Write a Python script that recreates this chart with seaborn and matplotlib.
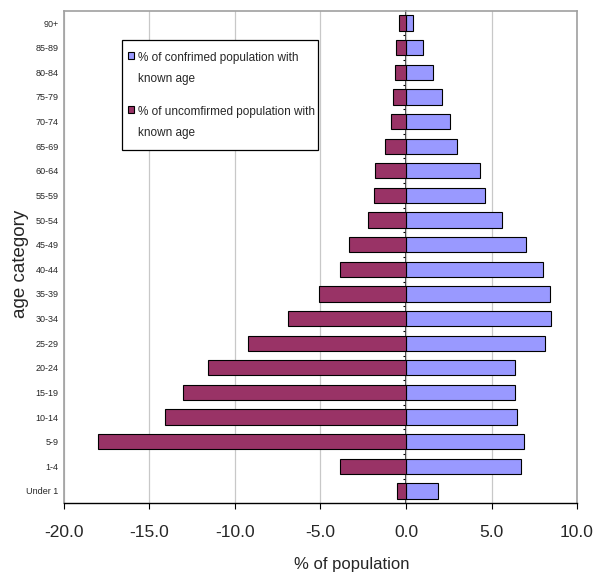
import numpy as np
import pandas as pd
import seaborn as sns
import matplotlib.pyplot as plt
from matplotlib.patches import Patch, Rectangle

# ---- data ----
age_groups = ['90+', '85-89', '80-84', '75-79', '70-74', '65-69', '60-64',
              '55-59', '50-54', '45-49', '40-44', '35-39', '30-34', '25-29',
              '20-24', '15-19', '10-14', '5-9', '1-4', 'Under 1']
confirmed = [0.4, 1.0, 1.6, 2.1, 2.6, 3.0, 4.3, 4.6, 5.6, 7.0, 8.0, 8.4,
             8.5, 8.15, 6.35, 6.35, 6.5, 6.9, 6.75, 1.85]
unconfirmed = [-0.4, -0.6, -0.65, -0.75, -0.9, -1.25, -1.8, -1.9, -2.2,
               -3.35, -3.85, -5.1, -6.9, -9.25, -11.55, -13.05, -14.1,
               -18.0, -3.85, -0.55]
series_names = ['% of confrimed population with\nknown age',
                '% of uncomfirmed population with\nknown age']
series_colors = ['#9999FF', '#993366']
x_ticks = [-20, -15, -10, -5, 0, 5, 10]
x_tick_labels = ['-20.0', '-15.0', '-10.0', '-5.0', '0.0', '5.0', '10.0']

sns.set_theme(style='white')
plt.rcParams['font.family'] = ['Liberation Sans', 'DejaVu Sans']

df = pd.DataFrame({
    'age': age_groups * 2,
    'value': confirmed + unconfirmed,
    'series': [series_names[0]] * len(age_groups) + [series_names[1]] * len(age_groups),
})

fig = plt.figure(figsize=(6.07, 5.72), dpi=100)
ax = fig.add_axes([0.1054, 0.1201, 0.8452, 0.8612])

sns.barplot(data=df, y='age', x='value', hue='series', order=age_groups,
            hue_order=series_names, palette=series_colors, dodge=False,
            width=0.62, edgecolor='black', linewidth=0.8, ax=ax,
            legend=False, saturation=1)

ax.set_xlim(-20, 10)
ax.set_ylim(len(age_groups) - 0.5, -0.5)
ax.set_xticks(x_ticks)
ax.set_xticklabels(x_tick_labels, fontsize=12.5)
ax.tick_params(axis='x', direction='out', length=4.5, width=0.8,
               color='black', pad=11, bottom=True)
ax.tick_params(axis='y', length=0, pad=4, labelsize=6.5)
ax.grid(axis='x', color='#c8c8c8', linewidth=0.9)
ax.grid(axis='y', visible=False)
ax.set_axisbelow(True)

for side in ['top', 'right', 'left']:
    ax.spines[side].set_color('#a0a0a0')
    ax.spines[side].set_linewidth(1.2)
ax.spines['bottom'].set_color('black')
ax.spines['bottom'].set_linewidth(1.0)

# zero axis with category-boundary ticks
sec = ax.secondary_yaxis(2 / 3)
sec.set_yticks(np.arange(0.5, len(age_groups) - 1, 1))
sec.set_yticklabels([])
sec.tick_params(axis='y', direction='in', length=2.5, width=0.8, color='black')
sec.spines['left'].set_color('black')
sec.spines['left'].set_linewidth(1.1)

ax.set_xlabel('% of population', fontsize=12)
ax.xaxis.set_label_coords(0.561, -0.109)
ax.set_ylabel('age category', fontsize=13.5)
ax.yaxis.set_label_coords(-0.068, 0.486)

# legend frame (drawn separately for Excel-like padding)
ax.add_patch(Rectangle((0.113, 0.717), 0.383, 0.2235, transform=ax.transAxes,
                       facecolor='white', edgecolor='black', linewidth=0.9,
                       zorder=4.9, clip_on=False))
handles = [Patch(facecolor=c, edgecolor='black', linewidth=0.8, label=s)
           for c, s in zip(series_colors, series_names)]
leg = ax.legend(handles=handles, loc='upper left', bbox_to_anchor=(0.1241, 0.9171),
                frameon=False, fontsize=8.5, handlelength=0.55, handleheight=0.55,
                handletextpad=0.35, labelspacing=1.8, borderpad=0,
                borderaxespad=0)
for t in leg.get_texts():
    t.set_linespacing(2.0)
for col in leg._legend_handle_box.get_children():
    for row in col.get_children():
        row.align = 'top'

fig.savefig('out.png', dpi=100)
